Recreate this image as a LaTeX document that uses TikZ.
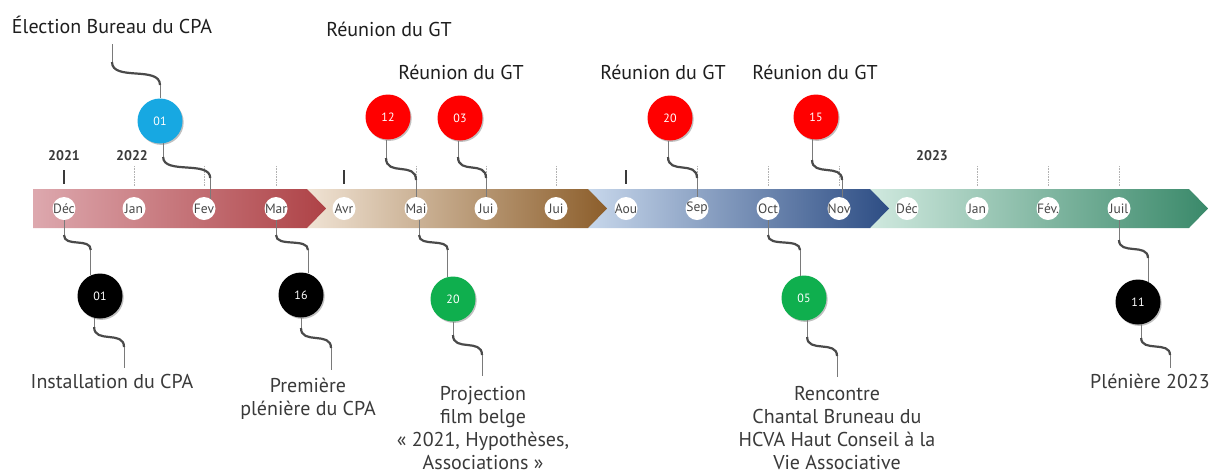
\documentclass[tikz,border=0pt]{standalone}
\usepackage{fontspec}
\setmainfont{PT Sans}
\usetikzlibrary{shadows,calc}
\definecolor{sAl}{HTML}{DDA8AE}\definecolor{sAr}{HTML}{AE4246}
\definecolor{sBl}{HTML}{F0E3D4}\definecolor{sBr}{HTML}{8C5E2B}
\definecolor{sCl}{HTML}{C7D7EB}\definecolor{sCr}{HTML}{2D4D84}
\definecolor{sDl}{HTML}{D0E9DF}\definecolor{sDr}{HTML}{3A896A}
\definecolor{evblue}{HTML}{17A8E2}
\definecolor{evred}{HTML}{FF0000}
\definecolor{evgreen}{HTML}{0FAF4E}
\definecolor{txtdark}{HTML}{1E1E1E}
\definecolor{txtgrey}{HTML}{3A3A3A}
\definecolor{monthgrey}{HTML}{484848}
\definecolor{curvegrey}{HTML}{4A4A4A}
\definecolor{thingrey}{HTML}{7A7A7A}
\newcommand\tlconn[4]{%
  \pgfmathsetmacro\tlc{0.85*(#4-#3)}%
  \draw[linkthin] (#1) -- (#1 |- 0,#3);
  \draw[linkcurve] (#1 |- 0,#3) .. controls +(0,\tlc) and +(0,-\tlc) .. (#2 |- 0,#4);
  \draw[linkthin] (#2 |- 0,#4) -- (#2);
}
\tikzset{
  evt/.style={circle,minimum size=45pt,inner sep=0pt,text=white,
    font=\fontsize{12}{12}\selectfont,
    drop shadow={shadow xshift=1.2pt,shadow yshift=-1.4pt,opacity=.35,fill=black!70}},
  monthdot/.style={circle,fill=white,minimum size=23pt,inner sep=0pt},
  monthtxt/.style={text=monthgrey,font=\fontsize{13.5}{14}\selectfont,inner sep=0pt},
  yearlab/.style={text=txtgrey,font=\bfseries\fontsize{14}{15}\selectfont,inner sep=0pt,anchor=base},
  toplab/.style={text=txtdark,font=\fontsize{20}{23}\selectfont,inner sep=0pt,anchor=base},
  botlab/.style={text=txtgrey,font=\fontsize{20}{23}\selectfont,inner sep=0pt,anchor=base,align=center},
  linkthin/.style={draw=thingrey,line width=0.9pt},
  linkcurve/.style={draw=curvegrey,line width=2.2pt},
  solidtick/.style={draw=txtgrey,line width=1.6pt},
  dottick/.style={draw=black!30,densely dotted,line width=0.6pt},
}
\begin{document}
\begin{tikzpicture}[x=1pt,y=-1pt]
\useasboundingbox (0,0) rectangle (1211,475);
\fill[white] (0,0) rectangle (1211,475);
% band segments
\shade[left color=sDl,right color=sDr] (870,189) -- (1189,189) -- (1208,208.5) -- (1189,228) -- (870,228) -- cycle;
\shade[left color=sCl,right color=sCr] (588,189) -- (870,189) -- (889,208.5) -- (870,228) -- (588,228) -- cycle;
\shade[left color=sBl,right color=sBr] (307,189) -- (588,189) -- (607,208.5) -- (588,228) -- (307,228) -- cycle;
\shade[left color=sAl,right color=sAr] (33,189) -- (307,189) -- (326,208.5) -- (307,228) -- (33,228) -- cycle;
% ticks
\foreach \x in {64,344,626} \draw[solidtick] (\x,170) -- (\x,184);
\foreach \x in {134,204,276,416,486,556,697,768,839,977,1048,1119} \draw[dottick] (\x,166) -- (\x,186);
% years
\node[yearlab] (y21) at (64,160) {2021};
\node[yearlab] (y22) at (132,160) {2022};
\node[yearlab] (y23) at (932,160) {2023};
% months
\foreach \n/\x/\t in {dec21/64/Déc,jan22/134/Jan,fev22/204/Fev,mar22/276/Mar,avr22/344/Avr,mai22/416/Mai,juin22/486/Jui,juil22/556/Jui,aou22/626/Aou,sep22/697/Sep,oct22/768/Oct,nov22/839/Nov,dec22/907/Déc,jan23/977/Jan,fev23/1048/Fév.,juil23/1119/Juil}{
  \node[monthdot] (\n) at (\x,208.5) {};
  \node[monthtxt] (\n-t) at (\n) {\t};
}
% event circles
\node[evt,fill=evblue] (e01) at (160,121) {01};
\node[evt,fill=evred] (r12) at (388,117) {12};
\node[evt,fill=evred] (r03) at (460,118) {03};
\node[evt,fill=evred] (r20) at (670,118) {20};
\node[evt,fill=evred] (r15) at (816,117) {15};
\node[evt,fill=black] (b01) at (100,296) {01};
\node[evt,fill=black] (b16) at (301,295) {16};
\node[evt,fill=evgreen] (g20) at (453,299) {20};
\node[evt,fill=evgreen] (g05) at (804,298) {05};
\node[evt,fill=black] (b11) at (1138,302) {11};
% top labels
\node[toplab] (lel) at (112,33.5) {Élection Bureau du CPA};
\node[toplab] (lr12) at (389,36) {Réunion du GT};
\node[toplab] (lr03) at (461,79) {Réunion du GT};
\node[toplab] (lr20) at (663,79) {Réunion du GT};
\node[toplab] (lr15) at (815,79) {Réunion du GT};
% bottom labels (base = baseline of last line)
\node[botlab] (linst) at (112,388) {Installation du CPA};
\node[botlab] (lprem) at (308,415) {Première\\plénière du CPA};
\node[botlab] (lproj) at (483,469) {Projection\\film belge\\« 2021, Hypothèses,\\Associations »};
\node[botlab] (lrenc) at (837,469) {Rencontre\\Chantal Bruneau du\\HCVA Haut Conseil à la\\Vie Associative};
\node[botlab] (lplen) at (1150,388) {Plénière 2023};
% connector end points at labels
\coordinate (lel-b) at ($(lel.base)+(0,10.5)$);
\coordinate (linst-t) at ($(linst.base)+(12,-20)$);
\coordinate (lprem-t) at ($(lprem.base)+(23,-45)$);
\coordinate (lproj-t) at ($(lproj.base)+(-1,-93)$);
\coordinate (lrenc-t) at ($(lrenc.base)+(0,-92)$);
\coordinate (lplen-t) at ($(lplen.base)+(20,-20)$);
% connectors
\tlconn{lel-b}{e01.north}{62}{85}
\tlconn{e01.278}{fev22.58}{157}{178}
\tlconn{r12.265}{mai22.north}{158}{180}
\tlconn{mai22.285}{g20.103}{235}{250}
\tlconn{g20.south}{lproj-t}{335}{355}
\tlconn{r03.265}{juin22.north}{157}{178}
\tlconn{r20.265}{sep22.north}{157}{178}
\tlconn{r15.260}{nov22.75}{160}{180}
\tlconn{dec21.south}{b01.114}{235}{250}
\tlconn{b01.255}{linst-t}{327}{347}
\tlconn{mar22.south}{b16.72}{235}{250}
\tlconn{b16.south}{lprem-t}{328}{348}
\tlconn{oct22.south}{g05.100}{235}{250}
\tlconn{g05.278}{lrenc-t}{337}{356}
\tlconn{juil23.south}{b11.64}{240}{258}
\tlconn{b11.278}{lplen-t}{338}{355}
\end{tikzpicture}
\end{document}
